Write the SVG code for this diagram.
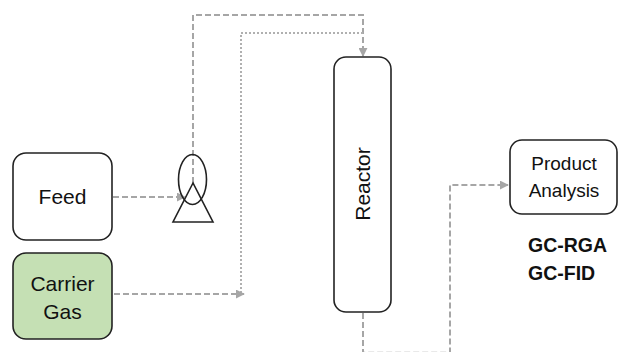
<svg xmlns="http://www.w3.org/2000/svg" width="619" height="352" viewBox="0 0 619 352">
<style>
.box{fill:#fff;stroke:#222;stroke-width:1.6}
.lbl{font-family:"Liberation Sans",Arial,sans-serif;font-size:21px;fill:#111;text-anchor:middle}
.lbl2{font-family:"Liberation Sans",Arial,sans-serif;font-size:19px;fill:#111;text-anchor:middle}
.bold{font-family:"Liberation Sans",Arial,sans-serif;font-size:19.5px;font-weight:bold;fill:#111}
.dash{fill:none;stroke:#a6a6a6;stroke-width:2;stroke-dasharray:6 3}
.dot{fill:none;stroke:#b0b0b0;stroke-width:2;stroke-dasharray:2 2}
</style>
<defs>
<marker id="arr" viewBox="0 0 10 10" refX="9" refY="5" markerWidth="4.5" markerHeight="4.5" orient="auto" markerUnits="strokeWidth">
<path d="M0,0 L10,5 L0,10 z" fill="#a6a6a6"/>
</marker>
</defs>
<rect width="619" height="352" fill="#fff"/>
<g id="connectors">
<path class="dash" d="M113,197 H185" marker-end="url(#arr)"/>
<path class="dash" d="M193,183 V15 H363 V56" marker-end="url(#arr)"/>
<path class="dot" d="M363,33 H241 V294"/>
<path class="dash" d="M114,294 H244" marker-end="url(#arr)"/>
<path class="dash" d="M363,313 V352.8 H450 V185 H508" marker-end="url(#arr)"/>
</g>
<g id="feed">
<rect class="box" x="13" y="153" width="99" height="87" rx="13"/>
<text class="lbl" x="62.5" y="204">Feed</text>
</g>
<g id="carrier-gas">
<rect class="box" x="13" y="253" width="99" height="86" rx="13" style="fill:#c5e0b4"/>
<text class="lbl" x="62.5" y="291">Carrier</text>
<text class="lbl" x="62.5" y="319">Gas</text>
</g>
<g id="valve">
<ellipse cx="192.5" cy="179.5" rx="14" ry="25" fill="none" stroke="#222" stroke-width="1.6"/>
<polygon points="193,183 173,222 213,222" fill="none" stroke="#222" stroke-width="1.6"/>
</g>
<g id="reactor">
<rect class="box" x="334" y="57" width="57" height="255" rx="12"/>
<text class="lbl" transform="translate(370,184) rotate(-90)">Reactor</text>
</g>
<g id="product-analysis">
<rect class="box" x="510" y="140" width="107" height="74" rx="12"/>
<text class="lbl2" x="564" y="170">Product</text>
<text class="lbl2" x="564" y="197">Analysis</text>
</g>
<g id="gc-labels">
<text class="bold" x="528" y="252">GC-RGA</text>
<text class="bold" x="528" y="280">GC-FID</text>
</g>
</svg>
